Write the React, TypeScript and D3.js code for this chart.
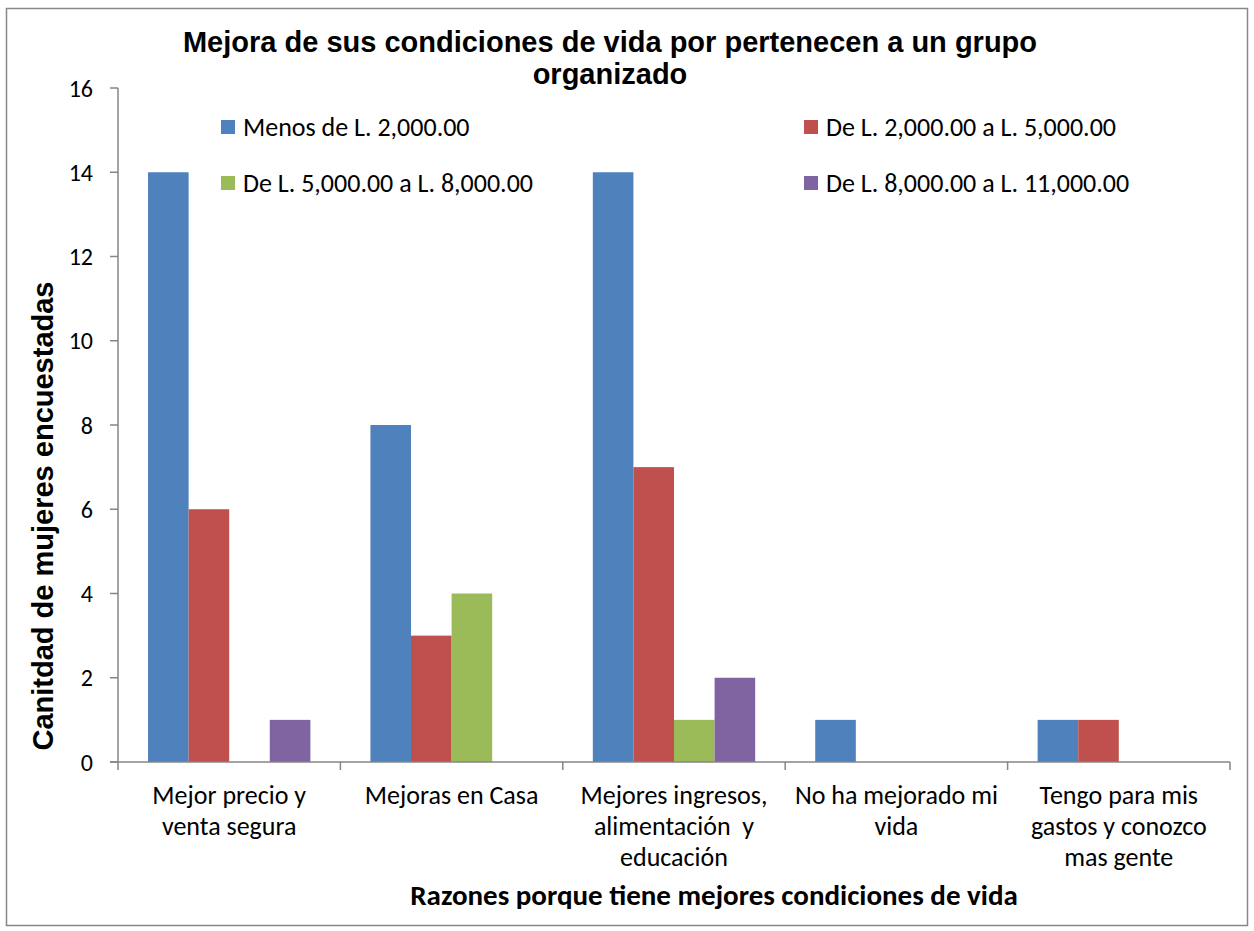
import React from "react";
import * as d3 from "d3";

const categories = [
  ["Mejor precio y", "venta segura"],
  ["Mejoras en Casa"],
  ["Mejores ingresos,", "alimentación  y", "educación"],
  ["No ha mejorado mi", "vida"],
  ["Tengo para mis", "gastos y conozco", "mas gente"],
];
const seriesNames = [
  "Menos de L. 2,000.00",
  "De L. 2,000.00 a L. 5,000.00",
  "De L. 5,000.00 a L. 8,000.00",
  "De L. 8,000.00 a L. 11,000.00",
];
const colors = ["#4F81BD", "#C0504D", "#9BBB59", "#8064A2"];
const menos2000 = [14, 8, 14, 1, 1];
const de2000a5000 = [6, 3, 7, 0, 1];
const de5000a8000 = [0, 4, 1, 0, 0];
const de8000a11000 = [1, 0, 2, 0, 0];
const seriesValues = [menos2000, de2000a5000, de5000a8000, de8000a11000];
const yTicks = [0, 2, 4, 6, 8, 10, 12, 14, 16];

const W = 1254;
const H = 931;
const left = 118;
const right = 1230;
const top = 88;
const bottom = 762;
const FONT = "Carlito, Calibri, Lato, 'Open Sans', sans-serif";
const ARIAL = "'Liberation Sans', Arial, sans-serif";
const axisColor = "#868686";

export default function App() {
  const x0 = d3
    .scaleBand<number>()
    .domain(d3.range(categories.length))
    .range([left, right])
    .paddingInner(0.27)
    .paddingOuter(0.135);
  const x1 = d3
    .scaleBand<number>()
    .domain(d3.range(seriesNames.length))
    .range([0, x0.bandwidth()]);
  const y = d3.scaleLinear().domain([0, 16]).range([bottom, top]);
  const step = (right - left) / categories.length;
  const catTicks = d3.range(categories.length + 1).map((i) => left + i * step);

  const legendPos = [
    { x: 221, y: 127 },
    { x: 804, y: 127 },
    { x: 221, y: 183 },
    { x: 804, y: 183 },
  ];

  return (
    <div style={{ position: "absolute", left: 0, top: 0 }}>
      <svg width={W} height={H} style={{ display: "block" }}>
        <rect x={0} y={0} width={W} height={H} fill="#fff" />
        <rect x={6.5} y={8.5} width={1241} height={917} fill="#fff" stroke="#888" strokeWidth={1.5} />
        {/* title */}
        <text x={610} y={52} textAnchor="middle" fontFamily={ARIAL} fontWeight="bold" fontSize={29} fill="#000">
          Mejora de sus condiciones de vida por pertenecen a un grupo
        </text>
        <text x={610} y={84} textAnchor="middle" fontFamily={ARIAL} fontWeight="bold" fontSize={29} fill="#000">
          organizado
        </text>
        {/* bars */}
        {seriesValues.map((vals, s) =>
          vals.map((v, c) =>
            v > 0 ? (
              <rect
                key={`${s}-${c}`}
                x={(x0(c) as number) + (x1(s) as number)}
                y={y(v)}
                width={x1.bandwidth()}
                height={y(0) - y(v)}
                fill={colors[s]}
              />
            ) : null
          )
        )}
        {/* y axis */}
        <line x1={left} x2={left} y1={top} y2={bottom} stroke={axisColor} strokeWidth={1.5} />
        {yTicks.map((t) => (
          <g key={t}>
            <line x1={left - 8} x2={left} y1={y(t)} y2={y(t)} stroke={axisColor} strokeWidth={1.5} />
            <text x={left - 25} y={y(t)} dy="0.36em" textAnchor="end" fontFamily={FONT} fontSize={24} fill="#000">
              {t}
            </text>
          </g>
        ))}
        {/* x axis */}
        <line x1={left - 8} x2={right} y1={bottom} y2={bottom} stroke={axisColor} strokeWidth={1.5} />
        {catTicks.map((t, i) => (
          <line key={i} x1={t} x2={t} y1={bottom} y2={bottom + 8} stroke={axisColor} strokeWidth={1.5} />
        ))}
        {categories.map((lines, c) => (
          <text key={c} textAnchor="middle" fontFamily={FONT} fontSize={26} fill="#000" style={{ whiteSpace: "pre" }}>
            {lines.map((ln, j) => (
              <tspan key={j} x={left + (c + 0.5) * step} y={804 + j * 31}>
                {ln}
              </tspan>
            ))}
          </text>
        ))}
        {/* axis titles */}
        <text x={714} y={905} textAnchor="middle" fontFamily={FONT} fontWeight="bold" fontSize={29} fill="#000">
          Razones porque tiene mejores condiciones de vida
        </text>
        <text
          transform={`translate(53,516) rotate(-90)`}
          textAnchor="middle"
          fontFamily={ARIAL}
          fontWeight="bold"
          fontSize={29}
          fill="#000"
        >
          Canitdad de mujeres encuestadas
        </text>
        {/* legend */}
        {seriesNames.map((n, i) => (
          <g key={n}>
            <rect x={legendPos[i].x} y={legendPos[i].y - 7} width={14} height={14} fill={colors[i]} />
            <text x={legendPos[i].x + 22} y={legendPos[i].y} dy="0.36em" fontFamily={FONT} fontSize={26} fill="#000">
              {n}
            </text>
          </g>
        ))}
      </svg>
    </div>
  );
}
